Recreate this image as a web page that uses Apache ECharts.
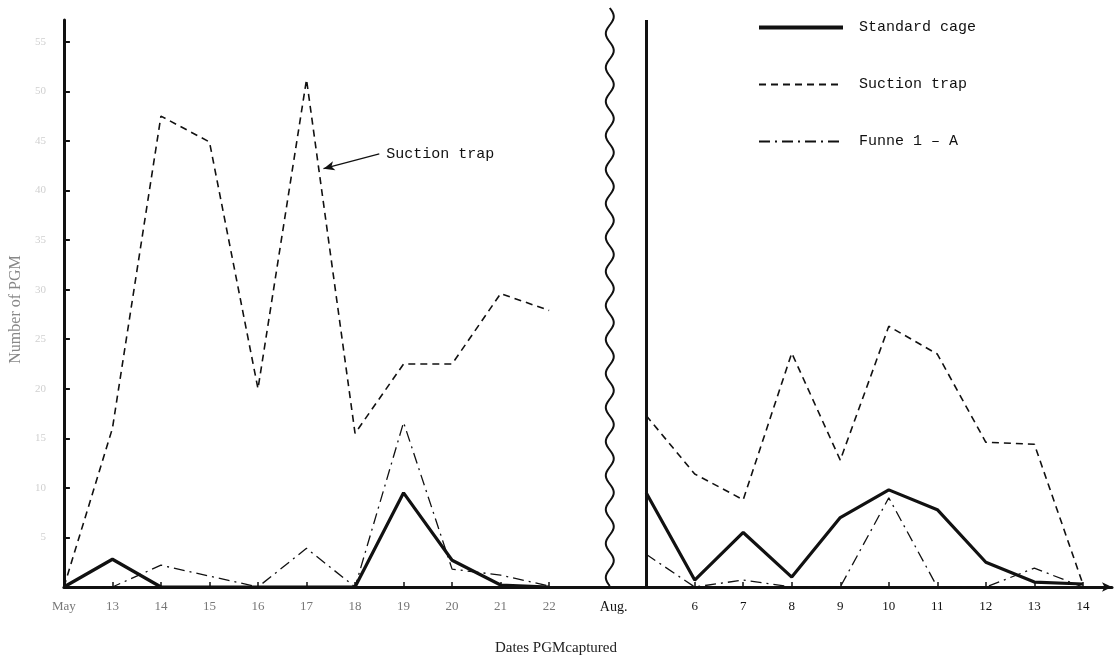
<!DOCTYPE html>
<html>
<head>
<meta charset="utf-8">
<script src="https://cdn.jsdelivr.net/npm/echarts@6/dist/echarts.min.js"></script>
<style>html,body{margin:0;padding:0;background:#fff}#c{width:1118px;height:661px}</style>
</head>
<body>
<div id="c"></div>
<script>
const categories = ["May","13","14","15","16","17","18","19","20","21","22","Aug.","","6","7","8","9","10","11","12","13","14"];
const standardCage = [0,2.8,0,0,0,0,0,9.5,2.7,0.2,0,null,9.5,0.7,5.5,1,7,9.8,7.8,2.5,0.5,0.3];
const suctionTrap  = [0,16,47.5,44.9,20,51.2,15.5,22.5,22.5,29.6,27.9,null,17.3,11.4,8.8,23.6,12.8,26.3,23.5,14.6,14.4,0.3];
const funnel1A     = [0,0,2.2,1.1,0,3.9,0,16.6,1.8,1.2,0.1,null,3.3,0,0.7,0,0,9,0,0,1.9,0];
const yTicks = [5,10,15,20,25,30,35,40,45,50,55];
const seriesNames = ["Standard cage","Suction trap","Funne 1 – A"];

const SERIF = '"Liberation Serif","DejaVu Serif",serif';
const MONO = '"Liberation Mono","DejaVu Sans Mono",monospace';
const toPairs = arr => arr.map((v,i)=>[i, v===null ? '-' : v]);
const labelIdx = categories.map((c,i)=>c ? i : null).filter(i=>i!==null);
const tickIdx = categories.map((c,i)=>i).filter(i=>i!==0 && i!==11 && i!==12);

const chart = echarts.init(document.getElementById('c'));
chart.setOption({
  animation:false,
  backgroundColor:'#fff',
  grid:{left:62,right:6,top:20,bottom:69},
  legend:{
    orient:'vertical', left:757, top:20, padding:0, itemWidth:84, itemHeight:14, itemGap:42,
    itemStyle:{color:'rgba(0,0,0,0)',borderWidth:0,opacity:0},
    textStyle:{fontFamily:MONO,fontSize:15,color:'#111',lineHeight:14,padding:[0,0,0,11]},
    data:[
      {name:seriesNames[0],lineStyle:{width:4}},
      {name:seriesNames[1]},
      {name:seriesNames[2]}
    ]
  },
  xAxis:{
    type:'value', min:0, max:21.6,
    name:'Dates PGMcaptured', nameLocation:'middle', nameGap:54,
    nameTextStyle:{fontFamily:SERIF,fontSize:15,color:'#222',padding:[0,64,0,0]},
    axisLine:{lineStyle:{color:'#111',width:3},symbol:['none','arrow'],symbolSize:[7,10]},
    axisTick:{inside:true,length:5,lineStyle:{color:'#111',width:1.5},customValues:tickIdx},
    splitLine:{show:false},
    axisLabel:{
      customValues:labelIdx, margin:13,
      formatter:function(v){const i=Math.round(v);const s=categories[i];if(i===11)return '{aug|'+s+'}';return i<11?'{l|'+s+'}':'{r|'+s+'}';},
      rich:{
        l:{fontFamily:SERIF,fontSize:13,color:'#777'},
        r:{fontFamily:SERIF,fontSize:13,color:'#111'},
        aug:{fontFamily:SERIF,fontSize:14,color:'#111',padding:[0,0,0,32]}
      }
    }
  },
  yAxis:{
    type:'value', min:0, max:57.2,
    name:'Number of PGM', nameLocation:'middle', nameGap:36,
    nameTextStyle:{fontFamily:SERIF,fontSize:16,color:'#888',padding:[0,12,0,0]},
    axisLine:{show:true,lineStyle:{color:'#111',width:3}},
    axisTick:{show:true,inside:true,length:6,lineStyle:{color:'#111',width:2},customValues:yTicks},
    axisLabel:{customValues:yTicks,color:'#d0d0d0',fontFamily:SERIF,fontSize:11,margin:18},
    splitLine:{show:false}
  },
  series:[
    {
      name:seriesNames[0], type:'line', data:toPairs(standardCage), symbol:'none',
      lineStyle:{color:'#111',width:3.2}, itemStyle:{color:'#111'}, z:4
    },
    {
      name:seriesNames[1], type:'line', data:toPairs(suctionTrap), symbol:'none',
      lineStyle:{color:'#111',width:1.6,type:[7,5]}, itemStyle:{color:'#111'}, z:3,
      markLine:{
        silent:true, animation:false,
        label:{show:false},
        data:[
          [{xAxis:12,yAxis:0,symbol:'none',lineStyle:{type:'solid',width:3,color:'#111'}},{xAxis:12,yAxis:57.2,symbol:'none'}],
          [{coord:[6.5,43.7],symbol:'none',lineStyle:{type:'solid',width:1.2,color:'#111'}},{coord:[5.35,42.2],symbol:'arrow',symbolSize:[7,11]}]
        ]
      },
      markPoint:{
        silent:true, animation:false,
        data:[{coord:[6.55,43.7],symbol:'circle',symbolSize:1,itemStyle:{color:'rgba(0,0,0,0)'},
          label:{show:true,position:'right',distance:4,formatter:'Suction trap',fontFamily:MONO,fontSize:15,color:'#111'}}]
      }
    },
    {
      name:seriesNames[2], type:'line', data:toPairs(funnel1A), symbol:'none',
      lineStyle:{color:'#111',width:1.3,type:[11,5,2,5]}, itemStyle:{color:'#111'}, z:2
    }
  ]
});

// decorative axis-break wave
(function(){
  const cx = chart.convertToPixel({xAxisIndex:0}, 11.25);
  const yTop = 8, yBot = chart.convertToPixel({yAxisIndex:0}, 0);
  const pts = [];
  for(let y=yTop; y<=yBot; y+=2){ pts.push([cx + 4*Math.sin((y-yTop)/34*2*Math.PI), y]); }
  chart.setOption({graphic:[{type:'polyline',shape:{points:pts},style:{stroke:'#111',lineWidth:2,fill:null},z:10}]});
})();
</script>
</body>
</html>
